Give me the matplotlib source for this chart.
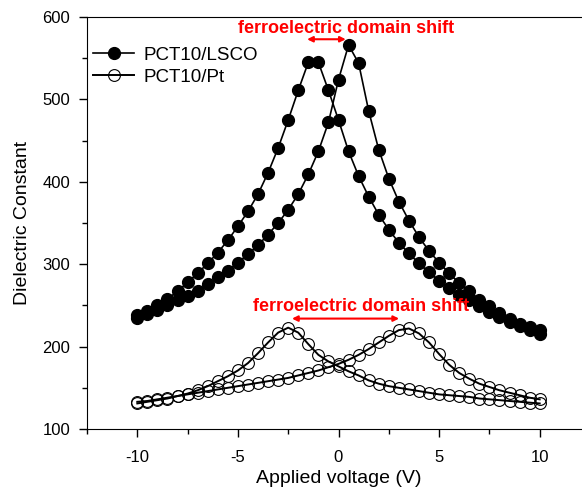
import numpy as np
import matplotlib
matplotlib.use("Agg")
import matplotlib.pyplot as plt
from matplotlib.ticker import MultipleLocator

plt.rcParams["font.family"] = ["Liberation Sans", "DejaVu Sans"]
plt.rcParams["axes.unicode_minus"] = False

# applied voltage, 0.5 V steps
volt = np.arange(-10, 10.01, 0.5)

# PCT10/LSCO, two sweep branches (filled circles)
lsco_a = [238, 243, 250, 258, 267, 278, 289, 301, 314, 329, 346, 364, 385, 411, 441,
          475, 511, 545, 545, 511, 475, 437, 407, 382, 360, 342, 326, 313, 301, 290,
          280, 271, 263, 256, 249, 242, 236, 230, 225, 220, 215]
lsco_b = [235, 239, 244, 250, 256, 262, 268, 276, 284, 292, 302, 312, 323, 336, 350,
          366, 385, 409, 437, 472, 524, 566, 544, 486, 439, 404, 376, 353, 333, 316,
          302, 289, 277, 267, 257, 249, 241, 234, 228, 224, 220]

# PCT10/Pt, two sweep branches (open circles)
pt_c = [131, 133, 135, 137, 140, 143, 147, 152, 158, 164, 171, 180, 192, 205, 217,
        223, 217, 203, 190, 182, 176, 170, 165, 159, 155, 152, 150, 148, 146, 144,
        142, 141, 140, 139, 137, 136, 135, 134, 133, 132, 131]
pt_d = [133, 134, 136, 138, 140, 142, 144, 146, 148, 150, 152, 154, 156, 158, 160,
        162, 165, 168, 171, 175, 179, 184, 190, 197, 205, 213, 220, 222, 216, 205,
        191, 178, 168, 161, 155, 151, 147, 144, 141, 138, 136]

fig = plt.figure(figsize=(5.82, 4.92), dpi=100)
ax = fig.add_axes([87 / 582, 63 / 492, 503 / 582, 412 / 492])

ms = 8.5
ax.plot(volt, lsco_a, "-o", color="black", lw=1.2, ms=ms, label="PCT10/LSCO")
ax.plot(volt, lsco_b, "-o", color="black", lw=1.2, ms=ms)
ax.plot(volt, pt_c, "-o", color="black", lw=1.4, ms=ms, mfc="none", mew=0.8, label="PCT10/Pt")
ax.plot(volt, pt_d, "-o", color="black", lw=1.4, ms=ms, mfc="none", mew=0.8)

# domain shift annotations
red = "#ff0000"
ax.annotate("", xy=(-1.7, 573), xytext=(0.5, 573),
            arrowprops=dict(arrowstyle="<|-|>", color=red, lw=1.5, mutation_scale=8))
ax.text(0.4, 586, "ferroelectric domain shift", color=red, fontsize=13,
        fontweight="bold", ha="center", va="center")
ax.annotate("", xy=(-2.45, 234), xytext=(3.15, 234),
            arrowprops=dict(arrowstyle="<|-|>", color=red, lw=1.5, mutation_scale=8))
ax.text(1.1, 249, "ferroelectric domain shift", color=red, fontsize=13,
        fontweight="bold", ha="center", va="center")

ax.set_xlim(-12.5, 12.5)
ax.set_ylim(100, 600)
ax.xaxis.set_major_locator(MultipleLocator(5))
ax.xaxis.set_minor_locator(MultipleLocator(2.5))
ax.yaxis.set_major_locator(MultipleLocator(100))
ax.yaxis.set_minor_locator(MultipleLocator(50))
ax.tick_params(which="major", length=6, width=1, labelsize=12, pad=6)
ax.tick_params(which="minor", length=3.5, width=1)
ax.tick_params(axis="x", which="major", pad=9)
ax.spines["right"].set_visible(False)

ax.set_xlabel("Applied voltage (V)", fontsize=14, labelpad=4)
ax.set_ylabel("Dielectric Constant", fontsize=14, labelpad=8)

ax.legend(loc="upper left", bbox_to_anchor=(-0.01, 0.955), frameon=False, fontsize=13.5,
          handlelength=2.2, handletextpad=0.5, labelspacing=0.25, borderaxespad=0.2)

fig.savefig("out.png", dpi=100)
